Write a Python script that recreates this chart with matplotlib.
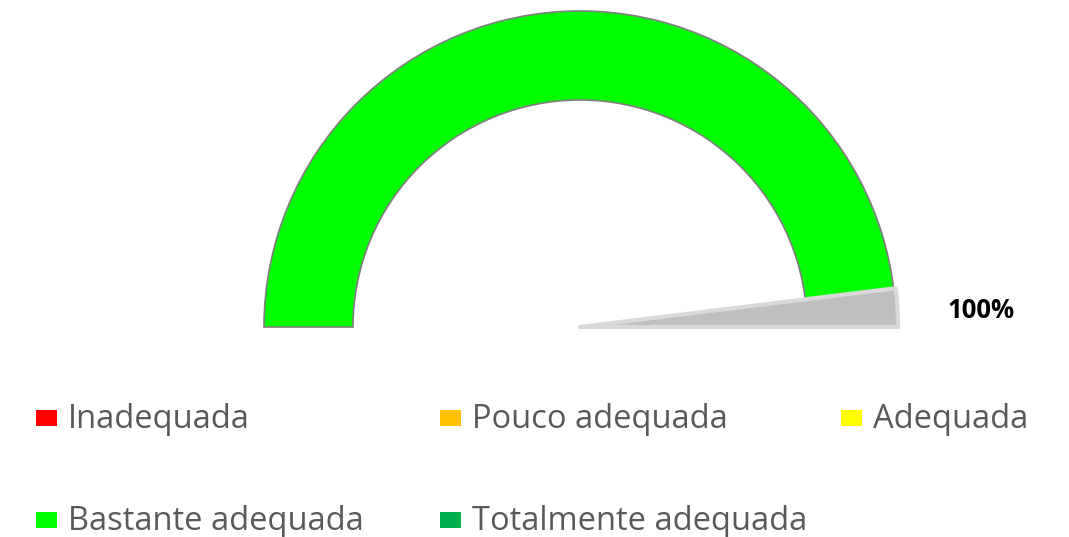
import matplotlib
matplotlib.use('Agg')
import matplotlib.pyplot as plt
from matplotlib.patches import Wedge, Rectangle

categories = ["Inadequada", "Pouco adequada", "Adequada", "Bastante adequada", "Totalmente adequada"]
colors = ["#FF0000", "#FFC000", "#FFFF00", "#00FF00", "#00B050"]
shares = [0, 0, 0, 100, 0]      # share of the gauge arc per category (%)
pointer_value = 100             # gauge reading (%)
pointer_label = "100%"

plt.rcParams['font.family'] = ['Open Sans', 'DejaVu Sans']

fig = plt.figure(figsize=(10.69, 5.37), dpi=100)
ax = fig.add_axes([0, 0, 1, 1])
ax.set_xlim(0, 1069)
ax.set_ylim(0, 537)
ax.set_aspect('equal')
ax.axis('off')

cx, cy = 580, 210
r_out, r_in = 316, 227

# gauge arc, from 180 deg (left) to 0 deg (right)
start = 180.0
for val, col in zip(shares, colors):
    if val <= 0:
        continue
    end = start - 180.0 * val / 100.0
    ax.add_patch(Wedge((cx, cy), r_out, end, start, width=r_out - r_in,
                       facecolor=col, edgecolor="#7f7f7f", linewidth=1.2))
    start = end

# pointer slice
ang = 180.0 * (1 - pointer_value / 100.0)
ax.add_patch(Wedge((cx, cy), r_out + 2, ang, ang + 7, facecolor="#bfbfbf",
                   edgecolor="#d9d9d9", linewidth=3, joinstyle='round'))
ax.text(981, 227, pointer_label, fontsize=18.5, fontweight='bold',
        ha='center', va='center', color='black')

# legend
col_x = [36, 440, 841]
row_y = [119, 17]
for i, (name, col) in enumerate(zip(categories, colors)):
    x = col_x[i % 3]
    y = row_y[i // 3]
    ax.add_patch(Rectangle((x, y - 8), 21, 16, facecolor=col, edgecolor='none'))
    ax.text(x + 32, y - 2, name, fontsize=23.5, color="#595959", ha='left', va='center')

fig.savefig("out.png", dpi=100)
